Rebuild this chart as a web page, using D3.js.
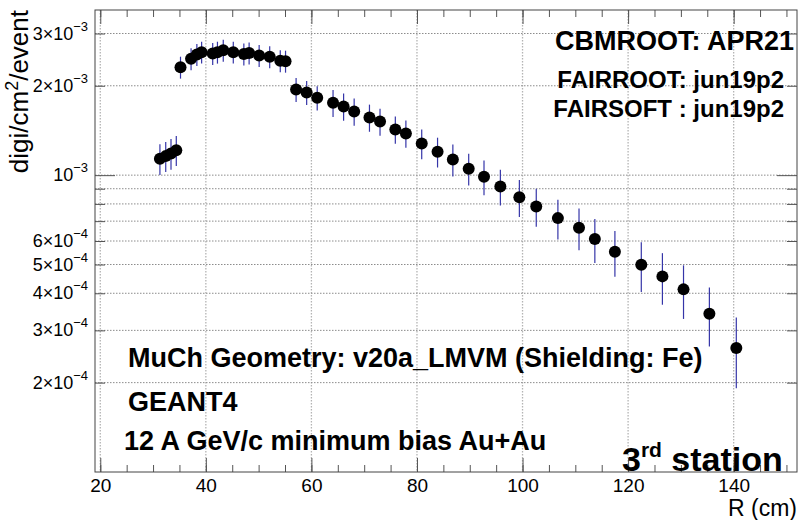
<!DOCTYPE html>
<html>
<head>
<meta charset="utf-8">
<script src="https://cdn.jsdelivr.net/npm/d3@7/dist/d3.min.js"></script>
<style>
body { margin: 0; background: #fff; }
text { font-family: "Liberation Sans", Arial, Helvetica, sans-serif; }
</style>
</head>
<body>
<svg width="800" height="520"></svg>
<script>
// R (cm) of each bin centre
var radius = [31.3, 32.4, 33.4, 34.4,
    35.2, 37.2, 38.3, 39.2, 41.3, 42.2, 43.3, 45.2, 47.2, 48.2, 50.1, 52.1, 54.1, 55.1,
    57.1, 59.1, 61.1,
    64.1, 66.1, 68.1, 71.0, 73.0, 75.9, 77.9, 80.9, 83.9, 86.8, 89.8, 92.7, 95.8, 99.4,
    102.6, 106.7, 110.7, 113.7, 117.5, 122.5, 126.5, 130.5, 135.4, 140.5];

// digi/cm2/event
var digi = [1.136e-3, 1.159e-3, 1.183e-3, 1.214e-3,
    2.31e-3, 2.465e-3, 2.55e-3, 2.595e-3, 2.57e-3, 2.595e-3, 2.636e-3, 2.595e-3, 2.56e-3, 2.58e-3, 2.53e-3, 2.505e-3, 2.43e-3, 2.42e-3,
    1.944e-3, 1.899e-3, 1.822e-3,
    1.753e-3, 1.703e-3, 1.639e-3, 1.564e-3, 1.516e-3, 1.425e-3, 1.382e-3, 1.278e-3, 1.199e-3, 1.129e-3, 1.051e-3, 0.988e-3, 0.916e-3, 0.843e-3,
    0.7845e-3, 0.7165e-3, 0.665e-3, 0.609e-3, 0.552e-3, 0.4991e-3, 0.456e-3, 0.4123e-3, 0.3415e-3, 0.2616e-3];

var digiErr = [0.135e-3, 0.135e-3, 0.14e-3, 0.14e-3,
    0.196e-3, 0.21e-3, 0.217e-3, 0.22e-3, 0.218e-3, 0.22e-3, 0.224e-3, 0.22e-3, 0.218e-3, 0.219e-3, 0.215e-3, 0.213e-3, 0.207e-3, 0.206e-3,
    0.18e-3, 0.177e-3, 0.17e-3,
    0.184e-3, 0.179e-3, 0.172e-3, 0.164e-3, 0.159e-3, 0.15e-3, 0.145e-3, 0.147e-3, 0.138e-3, 0.139e-3, 0.129e-3, 0.132e-3, 0.126e-3, 0.12e-3,
    0.115e-3, 0.11e-3, 0.107e-3, 0.103e-3, 0.097e-3, 0.095e-3, 0.09e-3, 0.0845e-3, 0.077e-3, 0.07e-3];

var xMajor = [20, 40, 60, 80, 100, 120, 140];
var yLabelVals = [2e-4, 3e-4, 4e-4, 5e-4, 6e-4, 1e-3, 2e-3, 3e-3];
var yLabelMant = ["2", "3", "4", "5", "6", "", "2", "3"];
var yLabelExp = ["\u22124", "\u22124", "\u22124", "\u22124", "\u22124", "\u22123", "\u22123", "\u22123"];

var infoTop = ["CBMROOT: APR21", "FAIRROOT: jun19p2", "FAIRSOFT : jun19p2"];
var infoBottom = ["MuCh Geometry: v20a_LMVM (Shielding: Fe)", "GEANT4", "12 A GeV/c minimum bias Au+Au"];

var svg = d3.select("svg");

var padL = 95, padR = 797, padT = 10, padB = 472;

var x = d3.scaleLinear().domain([19, 152]).range([padL, padR]);
var y = d3.scaleLog().domain([1.0e-4, 3.6e-3]).range([padB, padT]);

var data = radius.map(function(r, i) {
    return {r: r, v: digi[i], e: digiErr[i]};
});

var gridVals = y.ticks().filter(function(t) { return t > 1.01e-4; });
var minorX = d3.range(20, 152, 5);

// grid
svg.append("g").selectAll("line")
    .data(xMajor)
    .enter().append("line")
    .attr("x1", function(d) { return x(d); })
    .attr("x2", function(d) { return x(d); })
    .attr("y1", padT).attr("y2", padB)
    .style("stroke", "#b4b4b4")
    .style("stroke-width", 1.3)
    .style("stroke-dasharray", "1.5,1.5");

svg.append("g").selectAll("line")
    .data(gridVals)
    .enter().append("line")
    .attr("x1", padL).attr("x2", padR)
    .attr("y1", function(d) { return y(d); })
    .attr("y2", function(d) { return y(d); })
    .style("stroke", "#8c8c8c")
    .style("stroke-width", 1)
    .style("stroke-dasharray", "1.5,1.5");

// axes, ticks inside the frame
function styleAxis(g) {
    g.select(".domain").remove();
    g.selectAll(".tick line").style("stroke", "#555");
}

svg.append("g").attr("transform", "translate(0," + padB + ")")
    .call(d3.axisBottom(x).tickValues(minorX).tickSize(-7).tickFormat(""))
    .call(styleAxis);
svg.append("g").attr("transform", "translate(0," + padT + ")")
    .call(d3.axisTop(x).tickValues(minorX).tickSize(-7).tickFormat(""))
    .call(styleAxis);

var xAxis = svg.append("g").attr("transform", "translate(0," + padB + ")")
    .call(d3.axisBottom(x).tickValues(xMajor).tickSize(-14))
    .call(styleAxis);
xAxis.selectAll("text")
    .attr("y", 7)
    .style("font-size", "19px")
    .style("font-family", "Liberation Sans, Arial, sans-serif")
    .attr("fill", "#000");

svg.append("g").attr("transform", "translate(0," + padT + ")")
    .call(d3.axisTop(x).tickValues(xMajor).tickSize(-14).tickFormat(""))
    .call(styleAxis);

svg.append("g").attr("transform", "translate(" + padL + ",0)")
    .call(d3.axisLeft(y).tickValues(gridVals).tickFormat(""))
    .call(styleAxis)
    .selectAll(".tick line")
    .attr("x2", function(d) { return Math.abs(d - 1e-3) < 1e-9 ? 20 : 10; });

svg.append("g").attr("transform", "translate(" + padR + ",0)")
    .call(d3.axisRight(y).tickValues(gridVals).tickFormat(""))
    .call(styleAxis)
    .selectAll(".tick line")
    .attr("x2", function(d) { return Math.abs(d - 1e-3) < 1e-9 ? -20 : -10; });

// y tick labels like 3x10^-3
var yLab = svg.append("g").selectAll("text")
    .data(yLabelVals)
    .enter().append("text")
    .attr("x", 88)
    .attr("y", function(d) { return y(d) + 6; })
    .attr("text-anchor", "end")
    .style("font-size", "18px");
yLab.append("tspan")
    .text(function(d, i) { return yLabelMant[i] ? yLabelMant[i] + "\u00d710" : "10"; });
yLab.append("tspan")
    .attr("dy", -9)
    .style("font-size", "13px")
    .text(function(d, i) { return yLabelExp[i]; });

// frame
svg.append("rect")
    .attr("x", padL).attr("y", padT)
    .attr("width", padR - padL).attr("height", padB - padT)
    .style("fill", "none")
    .style("stroke", "#444")
    .style("stroke-width", 1);

// error bars + points
svg.append("g").selectAll("line")
    .data(data)
    .enter().append("line")
    .attr("x1", function(d) { return x(d.r); })
    .attr("x2", function(d) { return x(d.r); })
    .attr("y1", function(d) { return y(d.v + d.e); })
    .attr("y2", function(d) { return y(d.v - d.e); })
    .style("stroke", "#3535a8")
    .style("stroke-width", 1.2);

svg.append("g").selectAll("circle")
    .data(data)
    .enter().append("circle")
    .attr("cx", function(d) { return x(d.r); })
    .attr("cy", function(d) { return y(d.v); })
    .attr("r", 6)
    .style("fill", "#000");

// axis titles
svg.append("text")
    .attr("x", padR).attr("y", 516)
    .attr("text-anchor", "end")
    .style("font-size", "23px")
    .text("R (cm)");

var yt = svg.append("text")
    .attr("transform", "translate(28," + padT + ") rotate(-90)")
    .attr("text-anchor", "end")
    .style("font-size", "26px");
yt.append("tspan").text("digi/cm");
yt.append("tspan").attr("dy", -10).style("font-size", "18px").text("2");
yt.append("tspan").attr("dy", 10).text("/event");

// labels
var topBase = [50, 88, 117];
var topRight = [794, 784, 784];
var topSize = [27, 24, 24];
svg.append("g").selectAll("text")
    .data(infoTop)
    .enter().append("text")
    .attr("x", function(d, i) { return topRight[i]; })
    .attr("y", function(d, i) { return topBase[i]; })
    .attr("text-anchor", "end")
    .style("font-size", function(d, i) { return topSize[i] + "px"; })
    .style("font-weight", "bold")
    .text(function(d) { return d; });

var botBase = [367, 411, 450];
var botLeft = [128, 128, 124];
svg.append("g").selectAll("text")
    .data(infoBottom)
    .enter().append("text")
    .attr("x", function(d, i) { return botLeft[i]; })
    .attr("y", function(d, i) { return botBase[i]; })
    .style("font-size", "27px")
    .style("font-weight", "bold")
    .text(function(d) { return d; });

var st = svg.append("text")
    .attr("x", 622).attr("y", 471)
    .style("font-size", "34px")
    .style("font-weight", "bold");
st.append("tspan").text("3");
st.append("tspan").attr("dy", -14).style("font-size", "21px").text("rd");
st.append("tspan").attr("dy", 14).text(" station");
</script>
</body>
</html>
